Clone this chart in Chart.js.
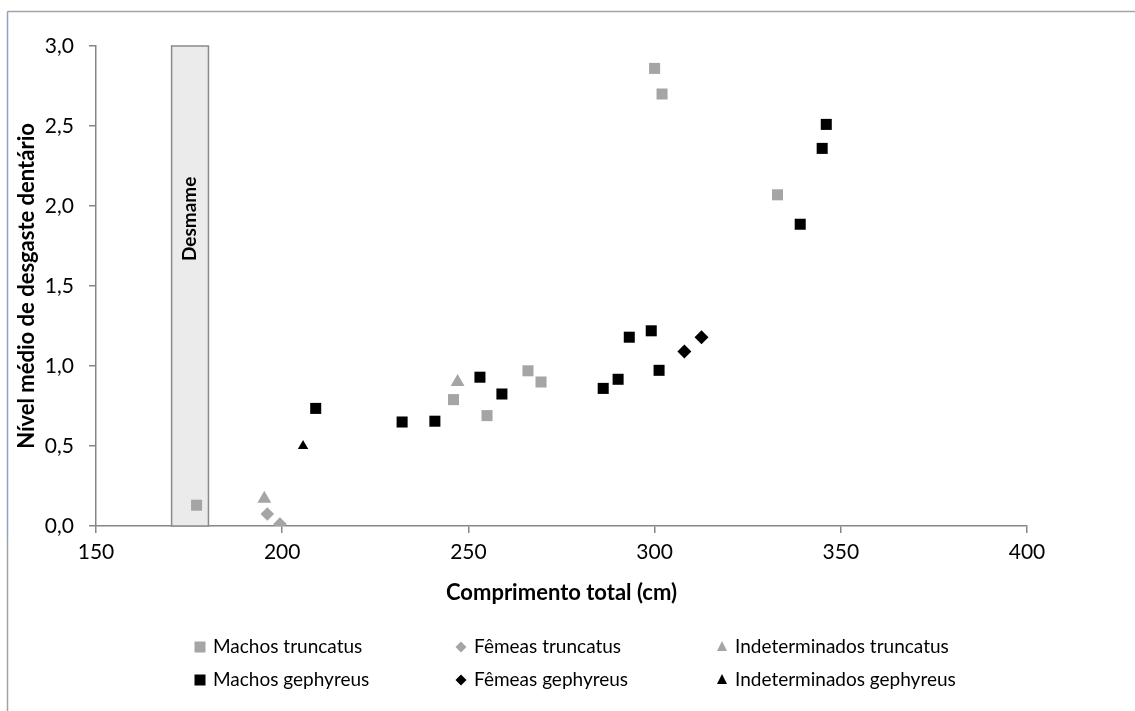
<!DOCTYPE html>
<html lang="pt">
<head>
<meta charset="utf-8">
<title>Nível médio de desgaste dentário</title>
<script src="https://cdn.jsdelivr.net/npm/chart.js@4.4.1/dist/chart.umd.min.js"></script>
<style>
  html, body { margin: 0; padding: 0; background: #fff; }
  #wrap { position: relative; width: 1135px; height: 711px; }
</style>
</head>
<body>
<div id="wrap"><canvas id="chart" width="1135" height="711"></canvas></div>
<script>
// Comprimento total (cm) vs nível médio de desgaste dentário
const machosTruncatusX = [177, 246, 255, 266, 269.5, 300, 302, 333];
const machosTruncatusY = [0.13, 0.79, 0.69, 0.97, 0.90, 2.86, 2.70, 2.07];
const femeasTruncatusX = [196, 199.4];
const femeasTruncatusY = [0.075, 0.012];
const indetTruncatusX = [195.2, 247.1];
const indetTruncatusY = [0.17, 0.90];

const machosGephyreusX = [209, 232.2, 241, 253.1, 259, 286.2, 290.2, 293.2, 299.1, 301.2, 339.1, 345, 346.1];
const machosGephyreusY = [0.735, 0.65, 0.655, 0.93, 0.825, 0.86, 0.917, 1.18, 1.22, 0.973, 1.886, 2.36, 2.51];
const femeasGephyreusX = [308, 312.6];
const femeasGephyreusY = [1.09, 1.18];
const indetGephyreusX = [205.6];
const indetGephyreusY = [0.50];

// faixa do desmame (cm)
const weaningRange = [170.3, 180.2];
const weaningLabel = 'Desmame';

const xTicks = [150, 200, 250, 300, 350, 400];
const yTicks = [0, 0.5, 1, 1.5, 2, 2.5, 3];

const GRAY = '#a5a5a5';
const BLACK = '#000000';

function pts(xs, ys) {
  return xs.map((x, i) => ({ x: x, y: ys[i] }));
}

function series(label, xs, ys, color, style, radius) {
  return {
    label: label,
    data: pts(xs, ys),
    backgroundColor: color,
    borderColor: color,
    borderWidth: 0,
    pointStyle: style,
    pointRadius: radius,
    pointHoverRadius: radius
  };
}

const datasets = [
  series('Machos truncatus', machosTruncatusX, machosTruncatusY, GRAY, 'rect', 7.8),
  series('Fêmeas truncatus', femeasTruncatusX, femeasTruncatusY, GRAY, 'rectRot', 6.8),
  series('Indeterminados truncatus', indetTruncatusX, indetTruncatusY, GRAY, 'triangle', 8),
  series('Machos gephyreus', machosGephyreusX, machosGephyreusY, BLACK, 'rect', 7.8),
  series('Fêmeas gephyreus', femeasGephyreusX, femeasGephyreusY, BLACK, 'rectRot', 7),
  series('Indeterminados gephyreus', indetGephyreusX, indetGephyreusY, BLACK, 'triangle', 6)
];

// small marker for the legend, same shapes as the points
function legendMarker(ctx, style, color, cx, cy) {
  ctx.fillStyle = color;
  ctx.beginPath();
  if (style === 'rect') {
    ctx.rect(cx - 5.5, cy - 5.5, 11, 11);
  } else if (style === 'rectRot') {
    ctx.moveTo(cx, cy - 5.5);
    ctx.lineTo(cx + 5.5, cy);
    ctx.lineTo(cx, cy + 5.5);
    ctx.lineTo(cx - 5.5, cy);
  } else {
    ctx.moveTo(cx, cy - 6);
    ctx.lineTo(cx + 5, cy + 4);
    ctx.lineTo(cx - 5, cy + 4);
  }
  ctx.closePath();
  ctx.fill();
}

const extras = {
  id: 'extras',
  beforeDraw(chart) {
    const ctx = chart.ctx;
    ctx.save();
    ctx.lineWidth = 1.5;
    ctx.strokeStyle = '#a3a3a3';
    ctx.beginPath();
    ctx.moveTo(7.5, 11.5);
    ctx.lineTo(1135, 11.5);
    ctx.stroke();
    ctx.strokeStyle = '#8ea3c2';
    ctx.beginPath();
    ctx.moveTo(7.5, 11.5);
    ctx.lineTo(7.5, 540);
    ctx.stroke();
    ctx.strokeStyle = '#a3a3a3';
    ctx.beginPath();
    ctx.moveTo(7.5, 540);
    ctx.lineTo(7.5, 711);
    ctx.stroke();
    ctx.restore();
  },
  beforeDatasetsDraw(chart) {
    const { ctx, scales: { x, y } } = chart;
    const l = x.getPixelForValue(weaningRange[0]);
    const r = x.getPixelForValue(weaningRange[1]);
    const t = y.getPixelForValue(3);
    const b = y.getPixelForValue(0);
    ctx.save();
    ctx.fillStyle = '#ebebeb';
    ctx.fillRect(l, t, r - l, b - t);
    ctx.strokeStyle = '#8a8a8a';
    ctx.lineWidth = 1.5;
    ctx.strokeRect(l, t, r - l, b - t);
    ctx.translate((l + r) / 2, y.getPixelForValue(1.92));
    ctx.rotate(-Math.PI / 2);
    ctx.fillStyle = '#000';
    ctx.font = 'bold 19px Lato';
    ctx.textAlign = 'center';
    ctx.textBaseline = 'middle';
    ctx.fillText(weaningLabel, 0, 0);
    ctx.restore();
  },
  afterDraw(chart) {
    const ctx = chart.ctx;
    const colX = [200, 461, 722];
    const rowY = [647, 680];
    ctx.save();
    ctx.font = '19px Lato';
    ctx.textBaseline = 'middle';
    ctx.textAlign = 'left';
    chart.data.datasets.forEach((ds, i) => {
      const cx = colX[i % 3];
      const cy = rowY[Math.floor(i / 3)];
      legendMarker(ctx, ds.pointStyle, ds.backgroundColor, cx, cy);
      ctx.fillStyle = '#000';
      ctx.fillText(ds.label, cx + 13, cy);
    });
    ctx.restore();
  }
};

new Chart(document.getElementById('chart'), {
  type: 'scatter',
  data: { datasets: datasets },
  plugins: [extras],
  options: {
    responsive: false,
    animation: false,
    layout: { padding: { left: 8, top: 46, right: 108, bottom: 0 } },
    plugins: {
      legend: { display: false },
      tooltip: { enabled: false }
    },
    scales: {
      x: {
        type: 'linear',
        min: 150,
        max: 400,
        afterFit: (s) => { s.height = 185; },
        afterBuildTicks: (s) => { s.ticks = xTicks.map(v => ({ value: v })); },
        border: { color: '#868686', width: 1.5 },
        grid: { drawOnChartArea: false, color: '#868686', lineWidth: 1.5, tickLength: 7 },
        ticks: {
          color: '#000',
          font: { family: 'Lato', size: 21 },
          padding: 7
        },
        title: {
          display: true,
          text: 'Comprimento total (cm)',
          color: '#000',
          font: { family: 'Lato', size: 22, weight: 'bold' },
          padding: { top: 0, bottom: 105 }
        }
      },
      y: {
        type: 'linear',
        min: 0,
        max: 3,
        afterFit: (s) => { s.width = 88; },
        afterBuildTicks: (s) => { s.ticks = yTicks.map(v => ({ value: v })); },
        border: { color: '#868686', width: 1.5 },
        grid: { drawOnChartArea: false, color: '#868686', lineWidth: 1.5, tickLength: 7 },
        ticks: {
          color: '#000',
          font: { family: 'Lato', size: 21 },
          padding: 15,
          callback: (v) => Number(v).toFixed(1).replace('.', ',')
        },
        title: {
          display: true,
          text: 'Nível médio de desgaste dentário',
          color: '#000',
          font: { family: 'Lato', size: 22, weight: 'bold' },
          padding: { top: 6, bottom: 0 }
        }
      }
    }
  }
});
</script>
</body>
</html>
